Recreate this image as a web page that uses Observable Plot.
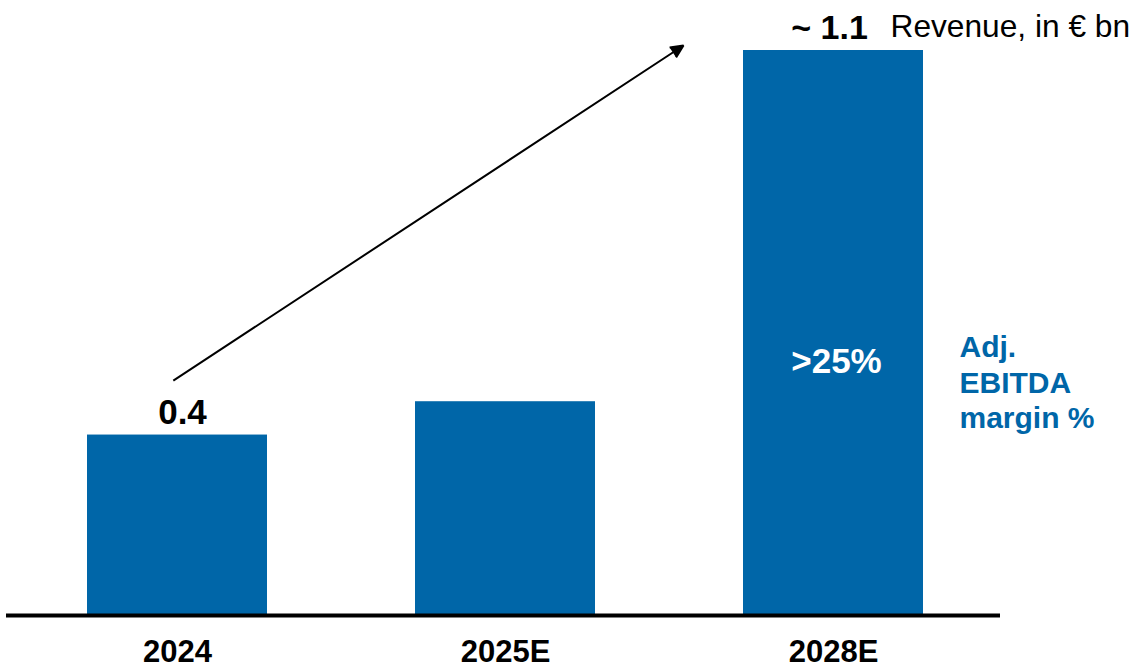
<!DOCTYPE html>
<html>
<head>
<meta charset="utf-8">
<script src="https://cdn.jsdelivr.net/npm/d3@7"></script>
<script src="https://cdn.jsdelivr.net/npm/@observablehq/plot@0.6"></script>
<style>
  html, body { margin: 0; padding: 0; background: #fff; }
  #chart svg { display: block; }
</style>
</head>
<body>
<div id="chart"></div>
<script>
const categories = ["2024", "2025E", "2028E"];
const revenue = [0.35, 0.415, 1.1];
const valueLabels = ["0.4", "", "~ 1.1"];
const unitLabel = "Revenue, in € bn";
const marginValue = ">25%";
const marginTitle = "Adj.\nEBITDA\nmargin %";
const arrowStart = {x: "2024", y: 0.4615};
const arrowEnd = {x: "2028E", y: 1.302};

const blue = "#0066a8";
const font = "'Liberation Sans', Arial, Helvetica, sans-serif";

const data = categories.map((c, i) => ({cat: c, value: revenue[i], label: valueLabels[i]}));
const first = data[0];
const last = data[data.length - 1];

const chart = Plot.plot({
  width: 1134,
  height: 667,
  marginTop: 50,
  marginBottom: 53,
  marginLeft: 6,
  marginRight: 134,
  style: {fontFamily: font, background: "white", color: "black", overflow: "visible"},
  x: {domain: categories, range: [13, 997], paddingInner: 0.451, paddingOuter: 0.2255, label: null},
  y: {domain: [0, 1.1], axis: null},
  marks: [
    Plot.barY(data, {x: "cat", y: "value", fill: blue}),
    Plot.ruleY([0], {stroke: "black", strokeWidth: 4, dy: 1}),
    Plot.axisX({tickSize: 0, tickPadding: 25, fontSize: 31, fontWeight: "bold", fontFamily: font, label: null}),
    Plot.text([first], {
      x: "cat", y: "value", text: "label", dy: -11, dx: 5,
      lineAnchor: "bottom", fontSize: 35, fontWeight: "bold", fill: "black"
    }),
    Plot.text([last], {
      x: "cat", y: "value", text: "label", dy: -12, dx: -4,
      lineAnchor: "bottom", fontSize: 34, fontWeight: "bold", fill: "black"
    }),
    Plot.text([last], {
      x: "cat", y: "value", text: () => unitLabel, dx: 57, dy: -14,
      textAnchor: "start", lineAnchor: "bottom", fontSize: 31.7, fill: "black"
    }),
    Plot.text([last], {
      x: "cat", y: "value", text: () => marginValue, dx: 3, dy: 322,
      lineAnchor: "bottom", fontSize: 35, fontWeight: "bold", fill: "white"
    }),
    Plot.text([last], {
      x: "cat", y: "value", text: () => marginTitle, dx: 126, dy: 282,
      textAnchor: "start", lineAnchor: "top", lineHeight: 1.17, fontSize: 30, fontWeight: "bold", fill: blue
    }),
    Plot.arrow([{x1: arrowStart.x, y1: arrowStart.y, x2: arrowEnd.x, y2: arrowEnd.y}], {
      x1: "x1", y1: "y1", x2: "x2", y2: "y2",
      stroke: "black", fill: "black", strokeWidth: 2, headLength: 10.5, headAngle: 50,
      insetStart: -5, insetEnd: 179.5, strokeLinecap: "butt", strokeLinejoin: "miter"
    })
  ]
});

document.getElementById("chart").appendChild(chart);
</script>
</body>
</html>
